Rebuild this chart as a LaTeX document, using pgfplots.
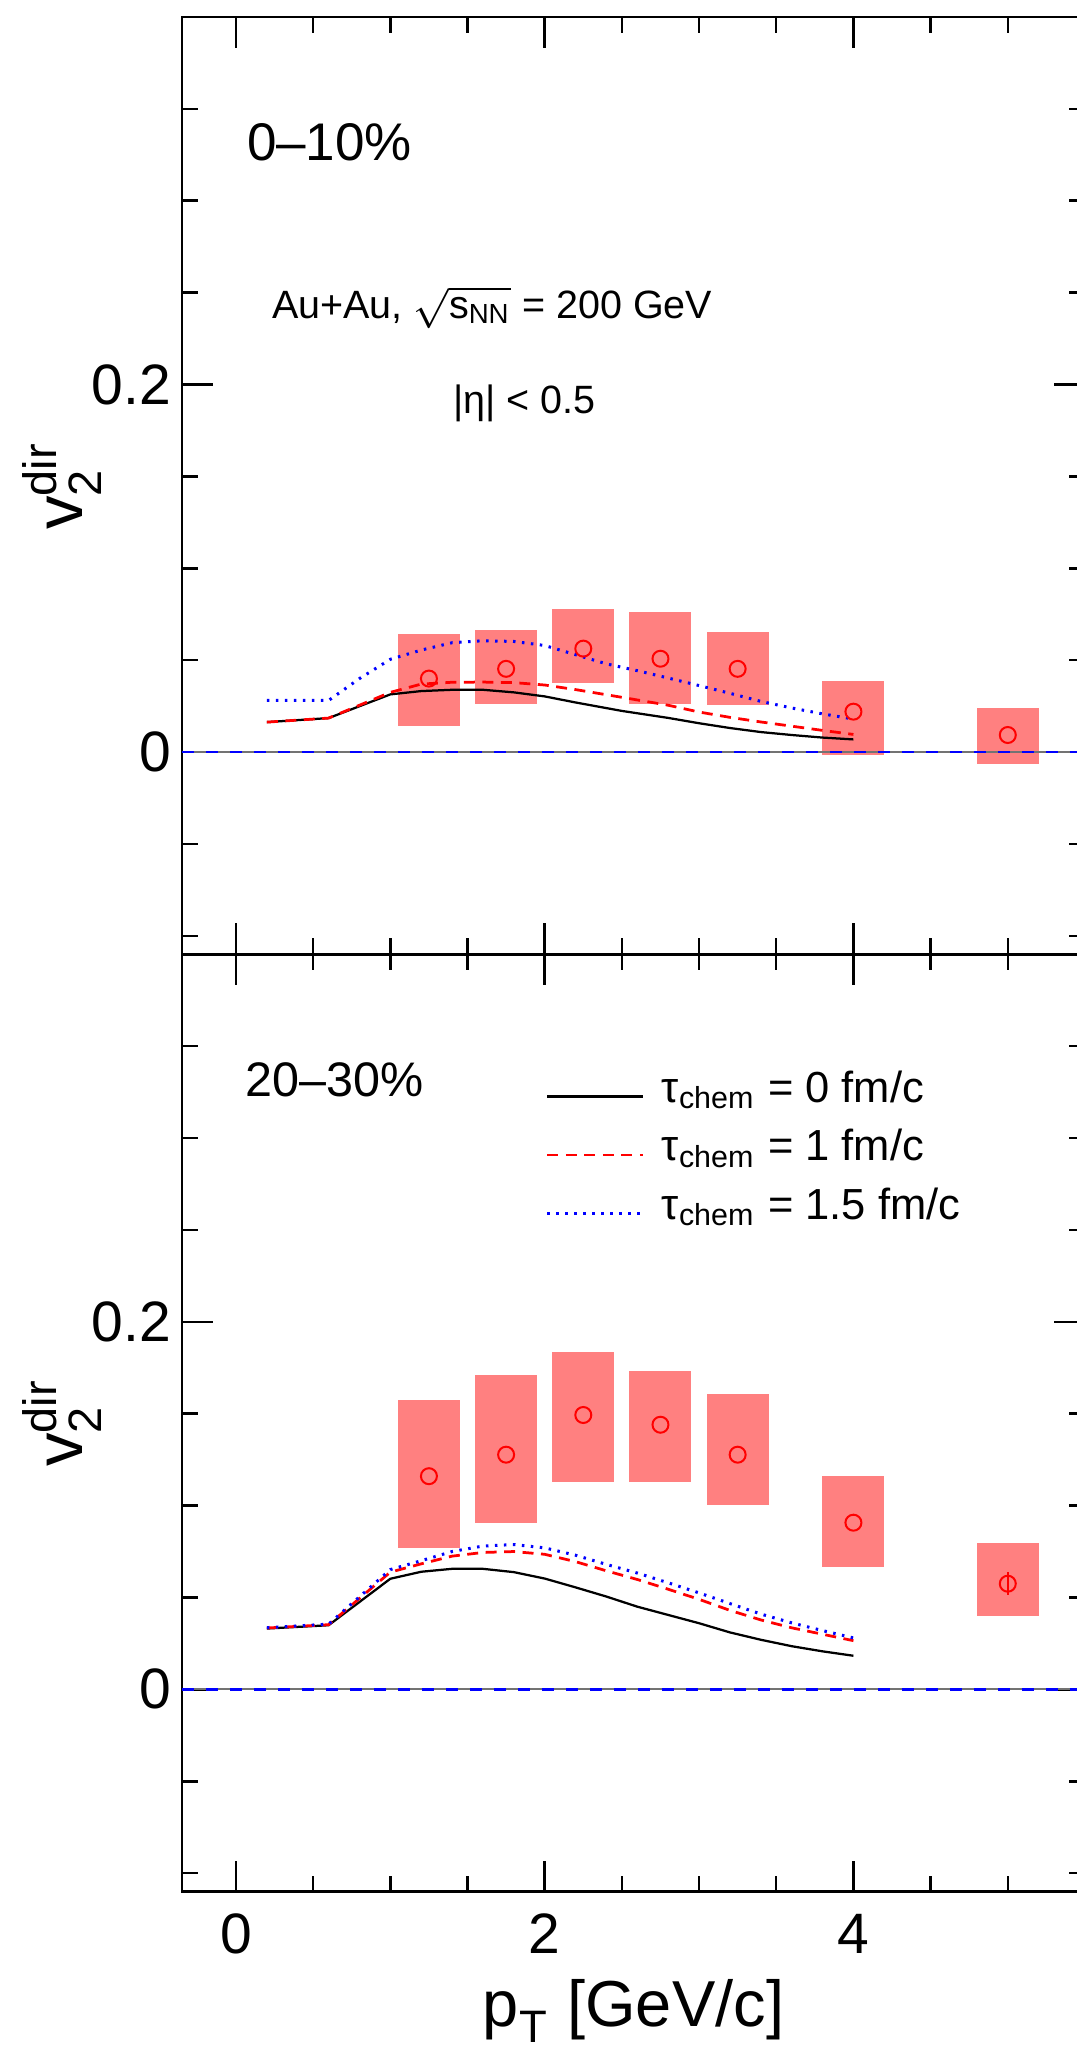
\documentclass[border=0pt]{standalone}
\usepackage{fontspec}
\setmainfont{Liberation Sans}
\usepackage{amsmath}
\usepackage{pgfplots}
\usepackage{pgfplotstable}
\pgfplotsset{compat=1.18}
\definecolor{boxred}{RGB}{255,128,128}

% x  y  lo  hi  (systematic box from lo to hi)
\pgfplotstableread{
x y lo hi
1.25 0.0400 0.0143 0.0643
1.75 0.0453 0.0260 0.0663
2.25 0.0563 0.0378 0.0777
2.75 0.0508 0.0260 0.0760
3.25 0.0453 0.0255 0.0653
4.00 0.0220 -0.0016 0.0385
5.00 0.0093 -0.0063 0.0240
}\toptable

\pgfplotstableread{
x y lo hi
1.25 0.1160 0.0771 0.1574
1.75 0.1277 0.0905 0.1710
2.25 0.1493 0.1130 0.1834
2.75 0.1440 0.1130 0.1734
3.25 0.1277 0.1003 0.1609
4.00 0.0907 0.0666 0.1162
5.00 0.0575 0.0398 0.0795
}\bottable

\pgfplotsset{
  mypanel/.style={
    scale only axis, width=180.64pt, height=187.5pt,
    xmin=-0.35, xmax=5.5, ymin=-0.11, ymax=0.4,
    xtick={0,2,4}, minor xtick={0.5,1,1.5,2.5,3,3.5,4.5,5},
    ytick={0,0.2}, minor ytick={-0.1,-0.05,0.05,0.1,0.15,0.25,0.3,0.35},
    tick align=inside, tick pos=both,
    major tick length=6.2pt, minor tick length=3.2pt,
    axis line style={line width=0.5pt},
    tick style={line width=0.5pt, black},
    /pgf/number format/assume math mode=true,
    tick label style={font=\fontsize{11.4}{13}\selectfont},
    yticklabel style={/pgf/number format/fixed, inner sep=0pt, xshift=-2pt},
    xticklabel style={inner sep=0pt, yshift=-4.3pt},
    ylabel={$\text{v}^{\text{dir}}_{\text{2}}$},
    ylabel style={at={(axis description cs:-0.1096,0.5)}, anchor=base, font=\fontsize{13.4}{15}\selectfont},
  },
  boxes/.style={draw=none, mark=none, forget plot,
    error bars/.cd, y dir=both, y explicit, error mark=none,
    error bar style={line width=12.4pt, draw=boxred, solid}},
  zeroline/.style={forget plot, black!55, line width=0.4pt},
  zerodash/.style={forget plot, blue, line width=0.5pt, dash pattern=on 2.4pt off 2.4pt},
  c0/.style={black, line width=0.45pt},
  c1/.style={red, line width=0.55pt, dash pattern=on 2.2pt off 1.5pt},
  c15/.style={blue, line width=0.6pt, dash pattern=on 0.5pt off 1.3pt},
  pts/.style={only marks, mark=o, mark size=1.6pt, red, forget plot, mark options={line width=0.4pt, draw=red, fill=none}},
}

\begin{document}
\begin{tikzpicture}
% ---------------- bottom panel: 20-30% ----------------
\begin{axis}[mypanel, name=bot, at={(0pt,0pt)}, anchor=south west,
  xlabel={$\text{p}_{\text{T}}$ [GeV/c]},
  xlabel style={at={(axis description cs:0.5,0)}, anchor=base, yshift=-27pt, font=\fontsize{13}{15}\selectfont},
  legend style={at={(axis description cs:0.403,0.8795)}, anchor=north west, draw=none, fill=none,
    inner sep=0pt, outer sep=0pt, row sep=0pt, column sep=3.4pt,
    font=\fontsize{8.7}{10.5}\selectfont,
    nodes={inner sep=0pt, text height=7pt, text depth=4.7pt}},
  legend cell align=left,
  legend image code/.code={\draw[#1] (0pt,0pt) -- (19.2pt,0pt);},
]
\addplot[boxes] table[x=x, y=y, y error plus expr=\thisrow{hi}-\thisrow{y}, y error minus expr=\thisrow{y}-\thisrow{lo}] {\bottable};
\addplot[zeroline] coordinates {(-0.35,0) (5.5,0)};
\addplot[zerodash] coordinates {(-0.35,0) (5.5,0)};
\addplot[c0] coordinates {(0.2,0.0331)(0.6,0.0349)(1.0,0.0602)(1.2,0.0640)(1.4,0.0656)(1.6,0.0656)(1.8,0.0638)(2.0,0.0603)(2.2,0.0555)(2.4,0.0505)(2.6,0.0450)(2.8,0.0405)(3.0,0.0360)(3.2,0.0310)(3.4,0.0270)(3.6,0.0235)(3.8,0.0207)(4.0,0.0183)};
\addlegendentry{τ$_{\text{chem}}$ = 0 fm/c}
\addplot[c1] coordinates {(0.2,0.0334)(0.6,0.0352)(1.0,0.0638)(1.2,0.0683)(1.4,0.0725)(1.6,0.0745)(1.8,0.0750)(2.0,0.0735)(2.2,0.0695)(2.4,0.0645)(2.6,0.0598)(2.8,0.0545)(3.0,0.0490)(3.2,0.0430)(3.4,0.0378)(3.6,0.0335)(3.8,0.0300)(4.0,0.0265)};
\addlegendentry{τ$_{\text{chem}}$ = 1 fm/c}
\addplot[c15] coordinates {(0.2,0.0336)(0.6,0.0355)(1.0,0.0652)(1.2,0.0700)(1.4,0.0750)(1.6,0.0780)(1.8,0.0788)(2.0,0.0770)(2.2,0.0730)(2.4,0.0680)(2.6,0.0633)(2.8,0.0580)(3.0,0.0525)(3.2,0.0467)(3.4,0.0410)(3.6,0.0362)(3.8,0.0320)(4.0,0.0280)};
\addlegendentry{τ$_{\text{chem}}$ = 1.5 fm/c}
\addplot[forget plot, draw=none, mark=none, error bars/.cd, y dir=both, y explicit, error mark=none, error bar style={draw=red, line width=0.5pt, solid}] coordinates {(5.0,0.0575) +- (0,0.0062)};
\addplot[pts] table[x=x, y=y] {\bottable};
\node[anchor=base west, inner sep=0pt, font=\fontsize{9.7}{11}\selectfont] at (axis cs:0.058,0.3225) {20--30\%};
\end{axis}
% ---------------- top panel: 0-10% ----------------
\begin{axis}[mypanel, name=top, at={(0pt,187.5pt)}, anchor=south west, xticklabels={,,}]
\addplot[boxes] table[x=x, y=y, y error plus expr=\thisrow{hi}-\thisrow{y}, y error minus expr=\thisrow{y}-\thisrow{lo}] {\toptable};
\addplot[zeroline] coordinates {(-0.35,0) (5.5,0)};
\addplot[zerodash] coordinates {(-0.35,0) (5.5,0)};
\addplot[c0] coordinates {(0.2,0.0163)(0.6,0.0185)(1.0,0.0314)(1.2,0.0332)(1.4,0.0339)(1.6,0.0339)(1.8,0.0325)(2.0,0.0303)(2.2,0.0270)(2.5,0.0224)(2.8,0.0186)(3.0,0.0157)(3.2,0.0131)(3.4,0.0109)(3.6,0.0093)(3.8,0.0079)(4.0,0.0069)};
\addplot[c1] coordinates {(0.2,0.0163)(0.6,0.0185)(1.0,0.0325)(1.2,0.0370)(1.4,0.0380)(1.6,0.0381)(1.8,0.0378)(2.0,0.0365)(2.2,0.0340)(2.5,0.0298)(2.8,0.0255)(3.0,0.0218)(3.2,0.0189)(3.4,0.0164)(3.6,0.0141)(3.8,0.0118)(4.0,0.0096)};
\addplot[c15] coordinates {(0.2,0.0281)(0.6,0.0281)(0.8,0.0400)(1.0,0.0505)(1.2,0.0555)(1.4,0.0595)(1.6,0.0606)(1.8,0.0602)(2.0,0.0580)(2.2,0.0530)(2.4,0.0480)(2.6,0.0443)(2.8,0.0403)(3.0,0.0362)(3.2,0.0320)(3.4,0.0276)(3.6,0.0240)(3.8,0.0208)(4.0,0.0180)};
\addplot[pts] table[x=x, y=y] {\toptable};
\node[anchor=base west, inner sep=0pt, font=\fontsize{10.6}{12}\selectfont] at (axis cs:0.065,0.322) {0--10\%};
\node[anchor=base west, inner sep=0pt, font=\fontsize{7.9}{9.5}\selectfont] at (axis cs:0.227,0.236) {Au+Au, $\sqrt{\text{s}_{\text{NN}}}$ = 200 GeV};
\node[anchor=base west, inner sep=0pt, font=\fontsize{7.9}{9.5}\selectfont] at (axis cs:1.40,0.184) {|η| < 0.5};
\end{axis}
\pgfresetboundingbox
\useasboundingbox (-36.4pt,-32.9pt) rectangle (179pt,378.4pt);
\end{tikzpicture}
\end{document}
